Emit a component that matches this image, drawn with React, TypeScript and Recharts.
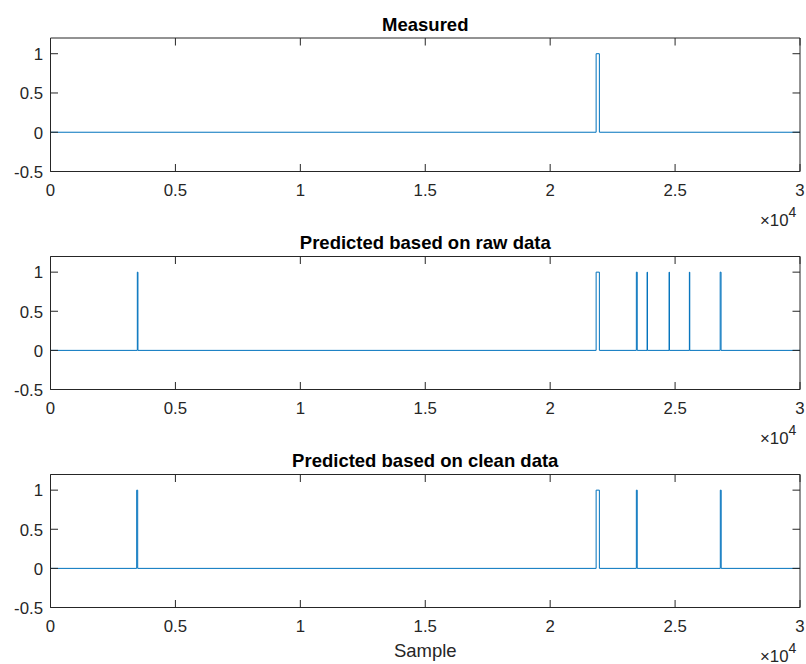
import React from 'react';
import { LineChart, Line, XAxis, YAxis } from 'recharts';

// ---------- data ----------
const X_MAX = 30000;
const xTicks = [0, 5000, 10000, 15000, 20000, 25000, 30000];
const xTickLabels = ['0', '0.5', '1', '1.5', '2', '2.5', '3'];
const yTicks = [-0.5, 0, 0.5, 1];
const yTickLabels = ['-0.5', '0', '0.5', '1'];
const yMin = -0.5;
const yMax = 1.2;

const titles = ['Measured', 'Predicted based on raw data', 'Predicted based on clean data'];
const xAxisLabel = 'Sample';

// pulses as [start sample, end sample], value 1 inside, 0 elsewhere
const measuredPulses = [[21840, 21970]];
const rawPulses = [
  [3475, 3500],
  [21840, 21970],
  [23450, 23485],
  [23880, 23895],
  [24760, 24775],
  [25572, 25588],
  [26805, 26840],
];
const cleanPulses = [
  [3450, 3490],
  [21840, 21970],
  [23450, 23485],
  [26810, 26845],
];

function buildSeries(pulses: number[][]) {
  const pts: { x: number; y: number }[] = [{ x: 0, y: 0 }];
  for (const [s, e] of pulses) {
    pts.push({ x: s, y: 0 }, { x: s, y: 1 }, { x: e, y: 1 }, { x: e, y: 0 });
  }
  pts.push({ x: X_MAX, y: 0 });
  return pts;
}

const seriesList = [measuredPulses, rawPulses, cleanPulses].map(buildSeries);

// ---------- layout / style ----------
const W = 806;
const H = 664;
const PLOT_LEFT = 50.5;
const PLOT_RIGHT = 800;
const panels = [
  { top: 38, bottom: 171.5 },
  { top: 256.5, bottom: 389.5 },
  { top: 474.5, bottom: 607.5 },
];
const FONT = '"Liberation Sans", Arial, Helvetica, sans-serif';
const AXIS = '#262626';
const LINE = '#0072BD';
const TICK_LEN = 7.5;
const TICK_FONT = 16.8;
const LABEL_FONT = 18.5;

const BottomTick = (props: any) => {
  const { x, y, payload } = props;
  const label = xTickLabels[xTicks.indexOf(payload.value)];
  return (
    <g>
      <line x1={x} y1={y} x2={x} y2={y - TICK_LEN} stroke={AXIS} strokeWidth={1} />
      <text x={x} y={y + 24} textAnchor="middle" fontSize={TICK_FONT} fontFamily={FONT} fill={AXIS}>
        {label}
      </text>
    </g>
  );
};

const TopTick = (props: any) => {
  const { x, y } = props;
  return <line x1={x} y1={y} x2={x} y2={y + TICK_LEN} stroke={AXIS} strokeWidth={1} />;
};

const LeftTick = (props: any) => {
  const { x, y, payload } = props;
  const label = yTickLabels[yTicks.indexOf(payload.value)];
  return (
    <g>
      <line x1={x} y1={y} x2={x + TICK_LEN} y2={y} stroke={AXIS} strokeWidth={1} />
      <text x={x - 7.5} y={y + 6.3} textAnchor="end" fontSize={TICK_FONT} fontFamily={FONT} fill={AXIS}>
        {label}
      </text>
    </g>
  );
};

const RightTick = (props: any) => {
  const { x, y } = props;
  return <line x1={x} y1={y} x2={x - TICK_LEN} y2={y} stroke={AXIS} strokeWidth={1} />;
};

const TOP_AXIS_H = 10;
const BOTTOM_AXIS_H = 50;
const LEFT_AXIS_W = 50;
const RIGHT_AXIS_W = W - PLOT_RIGHT;

function Panel({ idx }: { idx: number }) {
  const p = panels[idx];
  const data = seriesList[idx];
  return (
    <div style={{ position: 'absolute', left: 0, top: 0, width: W, height: H }}>
      <LineChart
        width={W}
        height={H}
        data={data}
        margin={{
          top: p.top - TOP_AXIS_H,
          bottom: H - p.bottom - BOTTOM_AXIS_H,
          left: PLOT_LEFT - LEFT_AXIS_W,
          right: 0,
        }}
      >
        <XAxis
          dataKey="x"
          type="number"
          domain={[0, X_MAX]}
          allowDataOverflow
          ticks={xTicks}
          interval={0}
          height={BOTTOM_AXIS_H}
          tickLine={false}
          tickSize={0}
          tickMargin={0}
          tick={(t: any) => <BottomTick {...t} />}
          axisLine={{ stroke: AXIS, strokeWidth: 1 }}
        />
        <XAxis
          xAxisId="top"
          orientation="top"
          dataKey="x"
          type="number"
          domain={[0, X_MAX]}
          allowDataOverflow
          ticks={xTicks}
          interval={0}
          height={TOP_AXIS_H}
          tickLine={false}
          tickSize={0}
          tickMargin={0}
          tick={(t: any) => <TopTick {...t} />}
          axisLine={{ stroke: AXIS, strokeWidth: 1 }}
        />
        <YAxis
          dataKey="y"
          type="number"
          domain={[yMin, yMax]}
          allowDataOverflow
          ticks={yTicks}
          interval={0}
          width={LEFT_AXIS_W}
          tickLine={false}
          tickSize={0}
          tickMargin={0}
          tick={(t: any) => <LeftTick {...t} />}
          axisLine={{ stroke: AXIS, strokeWidth: 1 }}
        />
        <YAxis
          yAxisId="right"
          orientation="right"
          dataKey="y"
          type="number"
          domain={[yMin, yMax]}
          allowDataOverflow
          ticks={yTicks}
          interval={0}
          width={RIGHT_AXIS_W}
          tickLine={false}
          tickSize={0}
          tickMargin={0}
          tick={(t: any) => <RightTick {...t} />}
          axisLine={{ stroke: AXIS, strokeWidth: 1 }}
        />
        <Line
          type="linear"
          dataKey="y"
          stroke={LINE}
          strokeWidth={1}
          dot={false}
          activeDot={false}
          isAnimationActive={false}
        />
      </LineChart>
    </div>
  );
}

export default function App() {
  const cx = (PLOT_LEFT + PLOT_RIGHT) / 2;
  return (
    <div style={{ position: 'absolute', left: 0, top: 0, width: W, height: H, background: '#fff' }}>
      {panels.map((_, i) => (
        <Panel key={i} idx={i} />
      ))}
      <svg
        width={W}
        height={H}
        style={{ position: 'absolute', left: 0, top: 0, pointerEvents: 'none' }}
      >
        {panels.map((p, i) => (
          <g key={i}>
            <text
              x={cx}
              y={p.top - 7.3}
              textAnchor="middle"
              fontSize={LABEL_FONT}
              fontWeight="bold"
              fontFamily={FONT}
              fill="#000"
            >
              {titles[i]}
            </text>
            <text x={760} y={p.bottom + 54} fontSize={TICK_FONT} fontFamily={FONT} fill={AXIS}>
              <tspan>×10</tspan>
              <tspan dy={-9} fontSize={14}>4</tspan>
            </text>
          </g>
        ))}
        <text
          x={cx}
          y={657.3}
          textAnchor="middle"
          fontSize={LABEL_FONT}
          fontFamily={FONT}
          fill={AXIS}
        >
          {xAxisLabel}
        </text>
      </svg>
    </div>
  );
}
